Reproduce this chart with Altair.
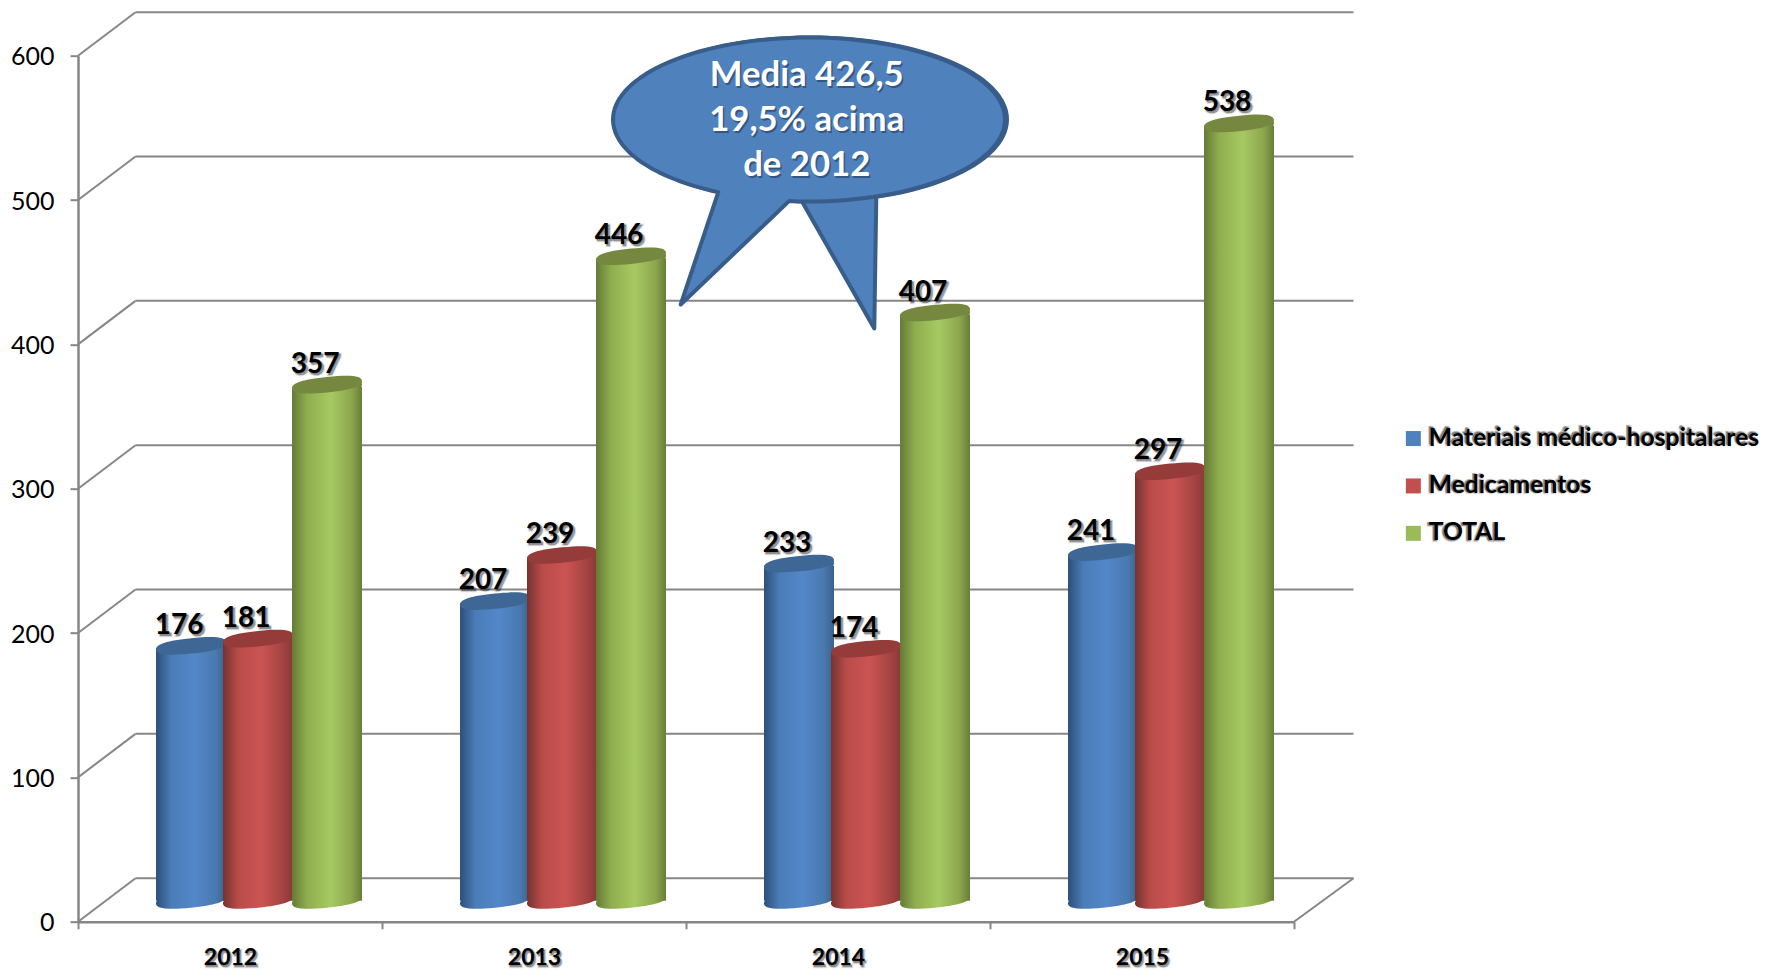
import math
import altair as alt
import pandas as pd

years = ["2012", "2013", "2014", "2015"]
series = ["Materiais médico-hospitalares", "Medicamentos", "TOTAL"]
materiais = [176, 207, 233, 241]
medicamentos = [181, 239, 174, 297]
total = [357, 446, 407, 538]
grid_values = [0, 100, 200, 300, 400, 500, 600]
callout_lines = ["Media 426,5", "19,5% acima", "de 2012"]

legend_colors = ["#4f81bd", "#c0504d", "#9bbb59"]
top_colors = ["#3f6795", "#953b39", "#76883f"]
stops = [
    ["#2e4f78", "#4a7cb8", "#5387c8", "#4a7aaf", "#3a618e"],
    ["#773230", "#b94c4a", "#cb5452", "#a44341", "#8b3836"],
    ["#657b36", "#8fae4f", "#a7c963", "#8ca64e", "#687e38"],
]
GRID = "#868686"
FONT = "Lato"

W, H = 1216, 866
PX_PER_UNIT = H / 600
DEPTH_X, DEPTH_Y = 57.5, 43.5
MID_X, MID_Y = 29, -21.75
series_dx = [-68, -1, 68]
CYL = 70
ELLIPSE = ("M1 -.1 C1 .05 .68 .152 0 .22 C-.68 .288 -1 .25 -1 .1 "
           "C-1 -.05 -.68 -.152 0 -.22 C.68 -.288 1 -.25 1 -.1 Z")


def gradient(cols):
    offs = [0, 0.22, 0.55, 0.85, 1]
    return {"gradient": "linear", "x1": 0, "x2": 1, "y1": 0, "y2": 0,
            "stops": [{"offset": o, "color": c} for o, c in zip(offs, cols)]}


df = pd.DataFrame({
    "year": years * 3,
    "series": sum([[s] * 4 for s in series], []),
    "value": materiais + medicamentos + total,
})
grid_df = pd.DataFrame({"v": grid_values})
grid_df["back"] = grid_df["v"] + DEPTH_Y / PX_PER_UNIT

yscale = alt.Scale(domain=[0, 600], nice=False)
y_axis = alt.Axis(orient="left", values=grid_values, tickSize=8, tickWidth=2, tickColor=GRID,
                  domainColor=GRID, domainWidth=2.5, labelFont=FONT, labelFontSize=25,
                  labelColor="black", labelPadding=16, labelOffset=1, grid=False)
x_enc = alt.X("year:N", title=None,
              scale=alt.Scale(domain=years, paddingInner=0, paddingOuter=0),
              axis=alt.Axis(orient="bottom", tickBand="extent", tickSize=7, tickWidth=2, tickColor=GRID,
                            domainColor=GRID, domainWidth=2.5, labelAngle=0, labelFont=FONT,
                            labelFontWeight="bold", labelFontSize=23, labelColor="black",
                            labelPadding=17.5, grid=False, zindex=1))
y_enc = alt.Y("value:Q", title=None, scale=yscale, axis=y_axis)


def shadow(base, **kw):
    out = []
    for dx, dy, op, sw in [(2, 2, 0.1, 3), (2, 2, 0.22, 1), (1, 1, 0.2, 0)]:
        d = dict(kw)
        d["dx"] = d.get("dx", 0) + dx
        d["dy"] = d.get("dy", 0) + dy
        out.append(base.mark_text(color="black", fillOpacity=op, stroke="black",
                                  strokeOpacity=op, strokeWidth=sw, **d))
    return out


layers = []

# walls and floor
gbase = alt.Chart(grid_df)
layers.append(gbase.mark_rule(color=GRID, strokeWidth=2).encode(
    x=alt.value(DEPTH_X), x2=alt.value(W + DEPTH_X + 2), y=alt.Y("back:Q", title=None, scale=yscale, axis=y_axis)))
layers.append(gbase.mark_rule(color=GRID, strokeWidth=2).encode(
    x=alt.value(0), x2=alt.value(DEPTH_X), y=alt.Y("v:Q", title=None, scale=yscale, axis=y_axis), y2="back:Q"))
layers.append(gbase.transform_filter("datum.v == 0").mark_rule(color=GRID, strokeWidth=2).encode(
    x=alt.value(W), x2=alt.value(W + DEPTH_X + 2), y=alt.Y("v:Q", title=None, scale=yscale, axis=y_axis), y2="back:Q"))

# legend carrier
layers.append(alt.Chart(df).mark_point(filled=True, size=0, shape="square", opacity=1).encode(
    x=x_enc, y=y_enc,
    color=alt.Color("series:N", scale=alt.Scale(domain=series, range=legend_colors),
                    legend=alt.Legend(title=None, orient="none", legendX=1323, legendY=370.5,
                                      symbolType="square", symbolSize=225, symbolStrokeWidth=0,
                                      labelFont=FONT, labelFontWeight="bold", labelFontSize=24.7,
                                      labelColor="black", labelOffset=3, rowPadding=21.4, padding=0,
                                      labelLimit=500))))

# cylinders
for i, s in enumerate(series):
    base = alt.Chart(df).transform_filter(alt.datum.series == s)
    g = gradient(stops[i])
    xo = MID_X + series_dx[i]
    sym = dict(shape=ELLIPSE, size=CYL ** 2, filled=True, opacity=1, strokeWidth=0, xOffset=xo)
    layers.append(base.mark_point(color=g, yOffset=MID_Y, **sym).encode(
        x=x_enc, y=alt.Y(datum=0, title=None, scale=yscale, axis=y_axis)))
    layers.append(base.mark_bar(color=g, width=CYL, xOffset=xo, yOffset=MID_Y + 2, y2Offset=-21).encode(
        x=x_enc, y=y_enc, y2=alt.Y2(datum=0)))
    layers.append(base.mark_point(color=g, yOffset=MID_Y + 3, **sym).encode(x=x_enc, y=y_enc))
    layers.append(base.mark_point(color=top_colors[i], yOffset=MID_Y, **sym).encode(x=x_enc, y=y_enc))

# data labels
for i, s in enumerate(series):
    base = alt.Chart(df).transform_filter(alt.datum.series == s).encode(x=x_enc, y=y_enc, text="value:Q")
    kw = dict(font=FONT, fontWeight="bold", fontSize=28, baseline="middle", align="center",
              dx=MID_X + series_dx[i] - 12, dy=MID_Y - 20)
    layers += shadow(base, **kw)
    layers.append(base.mark_text(color="black", **kw))

# x label shadows
ybase = alt.Chart(pd.DataFrame({"year": years})).encode(x=x_enc, y=alt.value(H + 36), text="year:N")
layers += shadow(ybase, font=FONT, fontWeight="bold", fontSize=23, baseline="middle", align="center")

# legend label shadows
for i, s in enumerate(series):
    lb = alt.Chart(pd.DataFrame({"t": [s]})).encode(x=alt.value(1347.5), y=alt.value(380.5 + 48 * i), text="t:N")
    layers += shadow(lb, font=FONT, fontWeight="bold", fontSize=24.7, baseline="middle", align="left")


# callout
def ell_path(cx, cy, rx, ry, x_start, x_end, tip):
    a0 = math.acos(x_start / rx)
    a1 = math.acos(x_end / rx) + 2 * math.pi
    n = 120
    pts = []
    for k in range(n + 1):
        a = a0 + (a1 - a0) * k / n
        pts.append((cx + rx * math.cos(a), cy + ry * math.sin(a)))
    pts.append(tip)
    return "M" + " L".join(f"{x / 200:.4f} {y / 200:.4f}" for x, y in pts) + " Z"


CX, CY = 809 - 78, 119.5 - 55.7
bubble_b = ell_path(2, 0, 196, 82, -9, 65.3, (65.3, 209))
bubble_a = ell_path(0, 0, 196, 82, -90.7, -20, (-128.3, 185))
one = pd.DataFrame({"k": [0]})
for p in (bubble_b, bubble_a):
    layers.append(alt.Chart(one).mark_point(shape=p, size=400 ** 2, filled=True, fill="#4f81bd", stroke="#385d8a",
                                            strokeWidth=4, opacity=1, fillOpacity=1, strokeOpacity=1,
                                            strokeJoin="round").encode(x=alt.value(CX), y=alt.value(CY)))

for i, line in enumerate(callout_lines):
    ct = alt.Chart(pd.DataFrame({"t": [line]})).encode(x=alt.value(806.7 - 78), y=alt.value(76.5 - 55.7 + 45 * i),
                                                        text="t:N")
    kw = dict(font=FONT, fontWeight="bold", fontSize=34.7, baseline="middle", align="center")
    layers.append(ct.mark_text(color="#1f3350", opacity=0.55, dx=1.5, dy=1.5, **kw))
    layers.append(ct.mark_text(color="white", **kw))

chart = alt.layer(*layers).properties(
    width=W, height=H, autosize="none",
    padding={"left": 70, "top": 47.7, "right": 469, "bottom": 49},
    background="white",
).configure_view(stroke=None)

chart.save("out.html", embed_options={"renderer": "svg", "actions": False})
